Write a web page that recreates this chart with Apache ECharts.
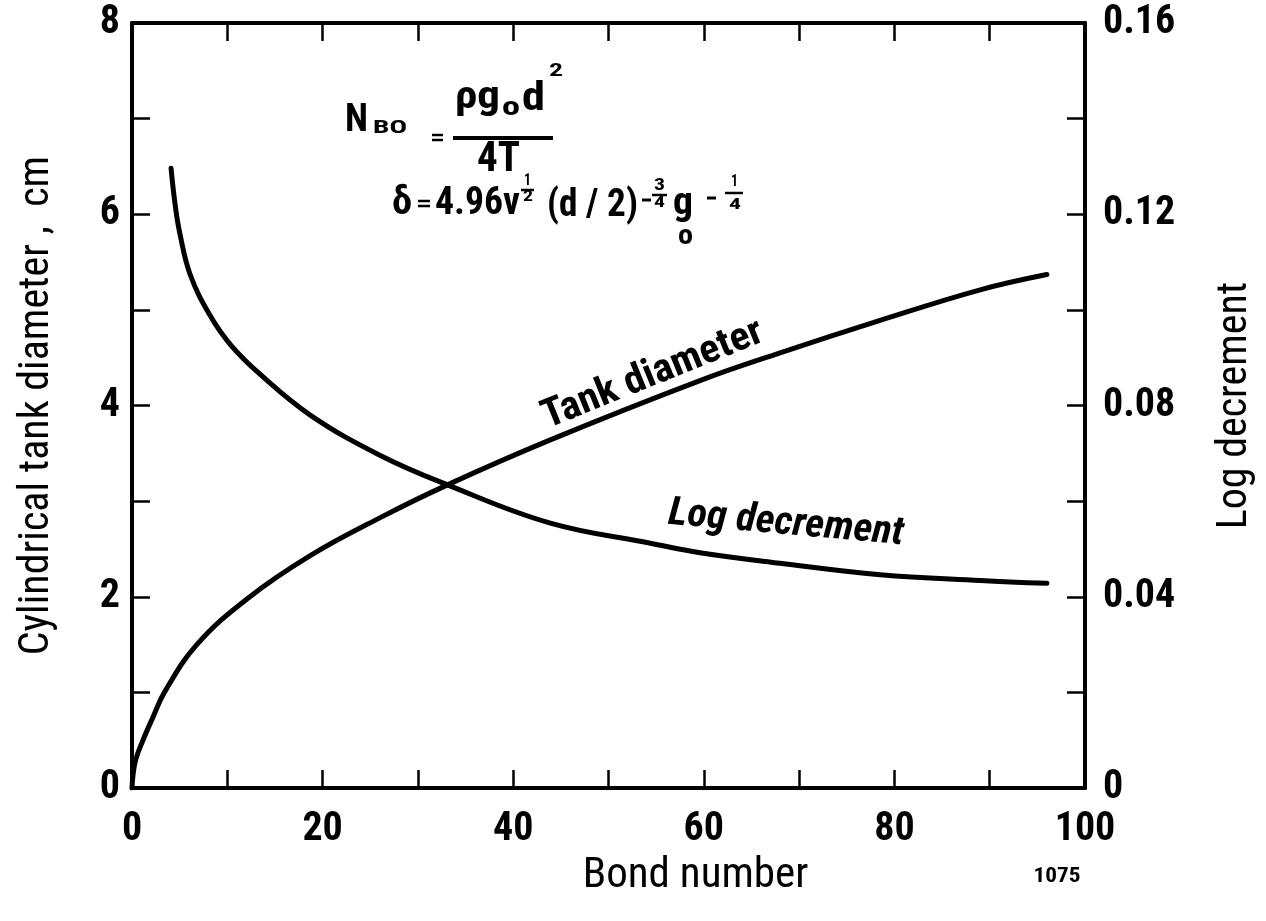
<!DOCTYPE html>
<html>
<head>
<meta charset="utf-8">
<script src="https://cdn.jsdelivr.net/npm/echarts@6/dist/echarts.min.js"></script>
<style>
html,body{margin:0;padding:0;background:#fff;}
#chart{width:1266px;height:921px;}
</style>
</head>
<body>
<div id="chart"></div>
<script>
// ---- data ----
const bondTank      = [0, 0.1, 0.4, 1.15, 2.2, 3.4, 6.8, 12.1, 18.7, 26.1, 33.1, 43.9, 59.6, 68.0, 78.5, 89.0, 96.0];
const tankDiameter  = [0, 0.13, 0.3, 0.5, 0.74, 1.0, 1.50, 1.98, 2.43, 2.83, 3.17, 3.64, 4.26, 4.55, 4.89, 5.21, 5.37];
const bondLog       = [4.1, 4.5, 5.0, 6.1, 8.2, 10.3, 13.4, 18.7, 26.0, 33.1, 43.9, 54.4, 59.6, 68.0, 78.5, 89.0, 96.0];
const logDecrement  = [0.1296, 0.1224, 0.1162, 0.1074, 0.0988, 0.0928, 0.0866, 0.078, 0.0696, 0.0634, 0.0554, 0.0512, 0.0492, 0.047, 0.0446, 0.0434, 0.0428];
const xTickLabels     = ['0', '20', '40', '60', '80', '100'];
const leftTickLabels  = ['0', '2', '4', '6', '8'];
const rightTickLabels = ['0', '0.04', '0.08', '0.12', '0.16'];

const FONT = 'Roboto Condensed';
const ctx = document.createElement('canvas').getContext('2d');
function measure(str, font){ ctx.font=font; return ctx.measureText(str).width; }

const chart = echarts.init(document.getElementById('chart'), null, {renderer:'canvas'});
const BLACK = '#000';

// text placed by its baseline, optionally squeezed to a target width
function T(str, x, baseline, size, width, extra, style){
  const font=(style||'bold')+' '+size+'px "'+FONT+'", sans-serif';
  const el={type:'text', x:x, y:baseline - 0.35*size, silent:true,
    style:Object.assign({text:str, fill:BLACK, font:font, align:'left', verticalAlign:'middle'}, extra||{})};
  if(width){ el.scaleX = width/measure(str,font); }
  return el;
}
// centred (optionally rotated) label with target width
function C(str, cx, cy, size, width, rot, style){
  const font=(style||'bold')+' '+size+'px "'+FONT+'", sans-serif';
  return {type:'text', x:cx, y:cy, rotation:rot||0, scaleX:width/measure(str,font), silent:true,
    style:{text:str, fill:BLACK, font:font, align:'center', verticalAlign:'middle'}};
}
function L(x1,y1,x2,y2,w){
  return {type:'line', silent:true, shape:{x1:x1,y1:y1,x2:x2,y2:y2}, style:{stroke:BLACK, lineWidth:w||3}};
}

const tickStyle = {show:true, inside:true, length:18, lineStyle:{color:BLACK, width:2.5}};
const lineAx = {show:true, onZero:false, lineStyle:{color:BLACK, width:4}};
const labelFont = {color:BLACK, fontFamily:FONT, fontWeight:'bold', fontSize:40};

const option = {
  animation:false,
  backgroundColor:'#fff',
  grid:{left:132, right:181, top:23, bottom:133},
  xAxis:[{
    type:'value', min:0, max:100, interval:10, position:'bottom',
    name:'Bond number', nameLocation:'middle', nameGap:65,
    nameTextStyle:{color:BLACK, fontFamily:FONT, fontSize:43, padding:[0,0,0,174]},
    axisLine:lineAx, axisTick:tickStyle, splitLine:{show:false},
    axisLabel:Object.assign({margin:22, formatter:function(v){const i=Math.round(v/20);return (Math.abs(v-i*20)<1e-6)?xTickLabels[i]:'';}}, labelFont)
  },{
    type:'value', min:0, max:100, interval:10, position:'top',
    axisLine:lineAx, axisTick:tickStyle, splitLine:{show:false}, axisLabel:{show:false}
  }],
  yAxis:[{
    type:'value', min:0, max:8, interval:1, position:'left',
    name:'Cylindrical tank diameter ,  cm', nameLocation:'middle', nameRotate:90, nameGap:74,
    nameTextStyle:{color:BLACK, fontFamily:FONT, fontSize:42},
    axisLine:lineAx, axisTick:tickStyle, splitLine:{show:false},
    axisLabel:Object.assign({margin:12, formatter:function(v){const i=Math.round(v/2);return (Math.abs(v-i*2)<1e-6)?leftTickLabels[i]:'';}}, labelFont)
  },{
    type:'value', min:0, max:0.16, interval:0.02, position:'right',
    name:'Log decrement', nameLocation:'middle', nameRotate:90, nameGap:129,
    nameTextStyle:{color:BLACK, fontFamily:FONT, fontSize:42},
    axisLine:lineAx, axisTick:tickStyle, splitLine:{show:false},
    axisLabel:Object.assign({margin:18, formatter:function(v){const i=Math.round(v/0.02);return (i%2===0)?rightTickLabels[i/2]:'';}}, labelFont)
  }],
  series:[{
    name:'Tank diameter', type:'line', xAxisIndex:0, yAxisIndex:0,
    data:bondTank.map((x,i)=>[x,tankDiameter[i]]),
    showSymbol:false, smooth:0.4,
    lineStyle:{color:BLACK, width:5, cap:'round'}
  },{
    name:'Log decrement', type:'line', xAxisIndex:0, yAxisIndex:1,
    data:bondLog.map((x,i)=>[x,logDecrement[i]]),
    showSymbol:false, smooth:0.4,
    lineStyle:{color:BLACK, width:5, cap:'round'}
  }],
  graphic:[
    // formula line 1
    T('N', 345, 135, 38, 23),
    T('BO', 373, 135, 18, 34),
    L(432,135,443,135,2.5), L(432,140,443,140,2.5),
    T('ρg', 455, 112, 38, 45),
    T('o', 502, 118, 26, 18),
    T('d', 522, 114, 40, 23),
    T('2', 549, 78, 19, 14),
    L(453,138,553,138,4),
    T('4T', 477, 175, 42, 43),
    // formula line 2
    T('δ', 392, 218, 38, 20),
    L(418,201,430,201,2.5), L(418,206,430,206,2.5),
    T('4.96ν', 435, 218, 39, 85),
    T('1', 524, 187, 16, 7),
    L(521,190,534,190,2.5),
    T('2', 523, 202, 14, 10),
    T('(d / 2)', 547, 220, 39, 91),
    L(642,200,651,200,3),
    T('3', 654, 192, 17, 11),
    L(652,195,667,195,2.5),
    T('4', 654, 208, 14, 11),
    T('g', 673, 218, 38, 20),
    T('o', 678, 247, 28, 15),
    L(707,198,716,198,3),
    T('1', 731, 188, 17, 7),
    L(725,193,743,193,2.5),
    T('4', 729, 210, 15, 12),
    // curve labels
    C('Tank diameter', 653, 375, 40, 235, 22*Math.PI/180, 'bold'),
    C('Log decrement', 786, 524, 40, 236, -5*Math.PI/180, 'italic bold'),
    // figure number
    C('1075', 1057, 877, 20, 47, 0, 'bold')
  ]
};
chart.setOption(option);
</script>
</body>
</html>
